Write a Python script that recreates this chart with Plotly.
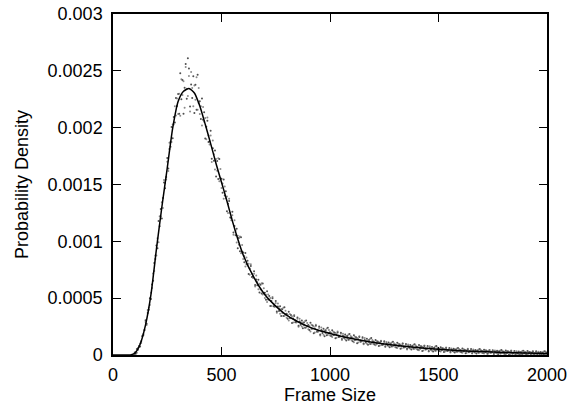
import plotly.graph_objects as go

# ---- data (density values in units of 1e-6) ----
frame_sizes = list(range(100, 2001, 5))

observed_a = [
    21, 12, 53, 46, 80, 75, 122, 164, 177, 221, 305, 275, 370, 398, 500, 493, 620, 653, 810, 845,
    963, 939, 1179, 1133, 1285, 1201, 1381, 1517, 1466, 1567, 1733, 1641, 1812, 1832, 2006, 1907, 2094, 2045, 2260, 2190,
    2296, 2123, 2478, 2251, 2420, 2122, 2352, 2560, 2254, 2610, 2521, 2186, 2379, 2262, 2452, 2129, 2378, 2158, 2465, 2218,
    2232, 2076, 2256, 2070, 2135, 1904, 2009, 2061, 1874, 1881, 1972, 1727, 1818, 1710, 1799, 1571, 1706, 1548, 1725, 1553,
    1550, 1428, 1545, 1403, 1440, 1265, 1330, 1355, 1210, 1205, 1260, 1078, 1135, 1053, 1110, 940, 1030, 913, 1035, 908,
    901, 816, 898, 801, 830, 712, 762, 784, 687, 691, 736, 616, 664, 614, 662, 549, 618, 540, 630, 545,
    547, 487, 560, 489, 518, 430, 476, 499, 428, 434, 474, 383, 426, 388, 428, 344, 402, 344, 420, 357,
    364, 318, 381, 325, 351, 281, 322, 343, 288, 295, 331, 258, 295, 267, 304, 236, 286, 240, 304, 254,
    264, 219, 284, 230, 259, 191, 234, 257, 204, 213, 251, 180, 219, 193, 232, 166, 218, 174, 240, 192,
    201, 167, 218, 176, 199, 147, 181, 199, 158, 166, 196, 140, 170, 150, 180, 128, 168, 134, 185, 147,
    156, 122, 173, 133, 156, 104, 138, 158, 117, 125, 156, 101, 131, 111, 142, 91, 131, 97, 149, 112,
    118, 92, 133, 100, 119, 79, 106, 121, 89, 96, 120, 76, 101, 86, 110, 69, 101, 75, 116, 86,
    93, 67, 108, 76, 95, 55, 82, 98, 66, 73, 97, 54, 79, 64, 88, 48, 80, 54, 95, 66,
    73, 47, 88, 56, 76, 36, 63, 79, 48, 55, 79, 36, 62, 47, 71, 31, 64, 38, 79, 50,
    57, 36, 69, 44, 59, 27, 48, 61, 36, 43, 62, 28, 47, 35, 55, 23, 49, 29, 61, 39,
    45, 25, 57, 33, 47, 16, 37, 50, 25, 32, 52, 18, 37, 25, 45, 13, 40, 19, 52, 30,
    36, 18, 47, 25, 39, 10, 30, 41, 19, 25, 42, 12, 29, 19, 37, 8, 32, 14, 43, 23,
    29, 11, 40, 18, 32, 3, 23, 35, 12, 18, 36, 6, 23, 13, 31, 3, 27, 8, 38, 18,
    24, 6, 36, 13, 27, 0, 19, 30, 8, 14, 32, 2, 19, 9, 27, 0, 23, 4, 34, 14, 20,
]

observed_b = [
    5, 28, 19, 62, 68, 101, 106, 168, 185, 217, 290, 265, 395, 418, 440, 548, 590, 718, 740, 875,
    875, 1027, 992, 1221, 1219, 1344, 1293, 1539, 1510, 1545, 1700, 1619, 1867, 1876, 1874, 2028, 2028, 2188, 2106, 2256,
    2120, 2299, 2104, 2427, 2288, 2408, 2176, 2534, 2342, 2278, 2455, 2142, 2489, 2350, 2188, 2371, 2246, 2444, 2157, 2350,
    2120, 2188, 2018, 2182, 2051, 2086, 1897, 2089, 1930, 1853, 1930, 1699, 1888, 1766, 1631, 1725, 1622, 1730, 1529, 1637,
    1470, 1508, 1375, 1483, 1380, 1395, 1250, 1375, 1250, 1185, 1230, 1058, 1185, 1093, 990, 1050, 970, 1043, 895, 968,
    845, 872, 779, 857, 788, 803, 706, 798, 715, 677, 715, 602, 699, 642, 578, 626, 576, 631, 532, 587,
    502, 531, 466, 533, 484, 502, 431, 510, 450, 423, 458, 372, 454, 411, 362, 405, 369, 416, 343, 390,
    327, 354, 304, 361, 323, 340, 285, 352, 306, 286, 318, 249, 318, 286, 250, 286, 259, 299, 241, 281,
    227, 255, 207, 266, 231, 250, 197, 266, 222, 204, 238, 171, 242, 212, 178, 216, 191, 233, 177, 219,
    172, 195, 158, 204, 177, 193, 152, 206, 172, 159, 186, 133, 188, 165, 138, 167, 147, 180, 136, 168,
    127, 150, 113, 161, 134, 150, 109, 165, 131, 118, 146, 94, 149, 126, 100, 130, 110, 143, 100, 133,
    96, 115, 86, 123, 102, 115, 83, 126, 100, 91, 112, 71, 115, 97, 76, 99, 84, 111, 77, 103,
    71, 90, 61, 99, 78, 91, 59, 103, 77, 68, 89, 49, 93, 75, 54, 78, 63, 90, 56, 83,
    51, 70, 41, 79, 59, 72, 40, 84, 59, 50, 71, 31, 76, 58, 37, 61, 47, 74, 40, 67,
    39, 53, 31, 61, 46, 56, 31, 66, 45, 38, 55, 23, 58, 44, 29, 48, 36, 58, 30, 52,
    27, 42, 19, 50, 34, 45, 20, 55, 34, 27, 45, 13, 48, 34, 19, 38, 27, 48, 21, 43,
    20, 34, 13, 41, 27, 36, 14, 45, 27, 21, 36, 8, 39, 27, 13, 30, 20, 40, 15, 35,
    13, 27, 6, 34, 20, 29, 7, 39, 20, 14, 30, 2, 33, 21, 7, 25, 15, 34, 10, 30,
    8, 22, 2, 29, 15, 25, 3, 34, 16, 10, 26, 0, 29, 17, 3, 21, 11, 30, 6, 26, 4,
]

fit_x = [0, 60, 80, 100, 125, 150, 175, 200, 225, 250, 275, 300, 325, 350, 375, 400,
         425, 450, 475, 500, 525, 550, 575, 600, 650, 700, 750, 800, 850, 900, 950,
         1000, 1100, 1200, 1300, 1400, 1500, 1600, 1700, 1800, 1900, 2000]
fit_y = [0, 0, 1, 15, 95, 265, 533, 930, 1300, 1645, 1995, 2230, 2320, 2345, 2305, 2190,
         2030, 1860, 1683, 1520, 1355, 1180, 1020, 880, 680, 530, 430, 350, 295, 250, 215,
         190, 145, 110, 85, 65, 50, 38, 30, 23, 18, 14]

x_ticks = [0, 500, 1000, 1500, 2000]
y_ticks = [0, 0.0005, 0.001, 0.0015, 0.002, 0.0025, 0.003]
y_tick_text = ["0", "0.0005", "0.001", "0.0015", "0.002", "0.0025", "0.003"]

SCALE = 1e-6

fig = go.Figure()
for obs, col in ((observed_a, "rgba(20,20,20,0.75)"), (observed_b, "rgba(100,100,100,0.75)")):
    fig.add_trace(go.Scatter(
        x=frame_sizes, y=[v * SCALE for v in obs], mode="markers",
        marker=dict(size=2, color=col, line=dict(width=0)),
        showlegend=False, hoverinfo="skip",
    ))
fig.add_trace(go.Scatter(
    x=fit_x, y=[v * SCALE for v in fit_y], mode="lines",
    line=dict(color="black", width=1.5, shape="spline", smoothing=0.6),
    showlegend=False,
))

font = dict(family="Liberation Sans, Arial, sans-serif", size=18, color="black")
axis_common = dict(
    showline=True, linecolor="black", linewidth=1.5, mirror="allticks",
    ticks="inside", ticklen=8, tickwidth=1, tickcolor="black",
    showgrid=False, zeroline=False, tickfont=font, automargin=False,
    ticklabeloverflow="allow",
)
fig.update_xaxes(range=[0, 2000], tickvals=x_ticks, ticktext=[str(t) for t in x_ticks],
                 ticklabelstandoff=3,
                 title=dict(text="Frame Size", font=font, standoff=2), **axis_common)
fig.update_yaxes(range=[0, 0.003], tickvals=y_ticks, ticktext=y_tick_text,
                 ticklabelstandoff=5,
                 title=dict(text="Probability Density", font=font, standoff=14), **axis_common)
fig.update_layout(
    width=569, height=406,
    margin=dict(l=113, r=22, t=14, b=51, autoexpand=False),
    paper_bgcolor="white", plot_bgcolor="white",
    font=font,
)
fig.write_html(
    "out.html",
    config={"displayModeBar": False},
    post_script="document.body.style.margin='0px';document.body.style.overflow='hidden';",
)
